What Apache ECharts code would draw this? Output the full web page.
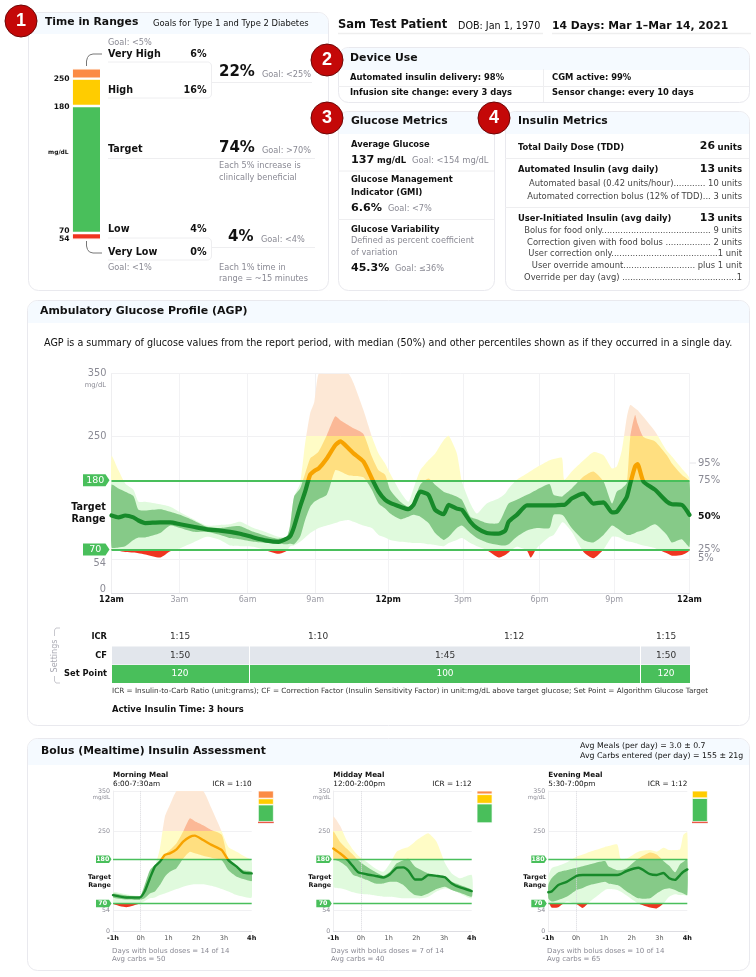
<!DOCTYPE html>
<html><head><meta charset="utf-8">
<script src="https://cdn.jsdelivr.net/npm/echarts@6/dist/echarts.min.js"></script>
<style>html,body{margin:0;padding:0;background:#fff}#c{width:756px;height:977px}</style>
</head><body><div id="c"></div>
<script>
// ---------- Ambulatory Glucose Profile (axis position in hours, mg/dL) ----------
const agpHours=[0,.29,.57,.91,1.12,1.4,2.02,2.44,2.85,3.4,3.96,4.51,4.93,5.34,5.9,6.45,6.93,7.28,7.42,7.58,7.83,8.04,8.25,8.42,8.6,8.94,9.29,9.5,9.84,10.05,10.46,10.81,11.09,11.36,11.57,11.99,12.33,12.54,12.82,13.16,13.44,13.79,14,14.34,14.55,14.9,15.17,15.58,16.07,16.35,16.49,16.83,17.25,17.41,17.66,18.19,18.36,18.7,18.8,19.11,19.6,20.01,20.43,20.78,20.98,21.19,21.4,21.54,21.74,21.84,22.09,22.57,23.06,23.27,23.68,24];
const agpP95=[219,196,175,165,146,146,142,138,129,118,108,109,110,114,104,97,90,90,112,154,175,239,287,305,350,350,350,350,350,335,292,250,223,207,191,162,146,167,196,212,223,244,251,223,178,143,127,143,151,159,167,181,191,195,201,212,214,216,181,194,212,225,220,199,202,228,281,300,295,292,281,258,227,218,199,183];
const agpP75=[173,167,162,155,133,132,134,130,125,116,106,104,106,107,98,91,87,90,109,154,167,191,215,220,226,252,282,276,268,263,254,218,196,189,165,146,138,146,173,183,173,162,159,154,149,122,118,112,112,133,143,149,157,160,165,174,157,154,157,167,186,194,178,143,162,167,176,249,284,271,249,242,220,207,189,178];
const agpP50=[124,121,124,121,116,112,113,113,110,106,102,100,98,95,89,84,82,87,91,106,138,162,189,195,199,215,236,242,231,223,210,183,162,149,144,138,134,141,162,157,133,126,141,135,133,114,104,96,95,100,114,125,140,140,140,140,140,141,141,151,159,143,145,129,130,141,154,175,202,206,178,165,146,142,141,125];
const agpP25=[73,73,75,85,89,89,96,108,104,98,98,93,88,86,82,80,79,78,79,78,90,117,138,146,150,157,196,194,188,187,185,165,143,135,127,118,122,125,122,112,96,85,90,104,108,96,88,81,77,76,78,90,100,102,104,104,125,125,122,104,85,81,93,108,104,98,93,93,96,98,101,110,93,81,86,74];
const agpP5=[70,68,66,65,64,62,57,67,72,81,90,85,76,75,74,68,63,68,75,76,82,89,96,100,104,108,112,115,117,114,108,104,93,89,85,82,81,80,80,78,77,75,80,85,88,80,75,69,57,61,65,74,68,57,72,90,93,113,112,98,66,56,70,90,90,87,83,82,80,79,76,72,64,60,61,69];
const agpTickPos=[0,2.82,5.65,8.46,11.49,14.59,17.77,20.87,24];
const agpTickText=['12am','3am','6am','9am','12pm','3pm','6pm','9pm','12am'];
const yTicks=[0,54,250,350];
const targetLines=[70,180];

// ---------- Meal profiles (hours from bolus, mg/dL) ----------
const mornHours=[-1,-.52,-.04,.14,.33,.51,.69,.87,1.05,1.29,1.53,1.77,1.95,2.25,2.55,2.92,3.16,3.46,3.7,4];
const mornP95=[98,93,89,100,141,162,207,286,315,350,350,350,350,350,307,249,211,199,189,176];
const mornP75=[95,90,87,116,153,166,170,191,203,220,249,282,275,265,253,241,178,162,153,149];
const mornP50=[91,85,85,100,133,162,174,191,195,205,224,236,239,228,216,203,178,162,147,145];
const mornP25=[85,80,79,83,95,100,116,137,149,158,182,199,195,189,184,178,153,137,131,126];
const mornP5=[70,61,70,76,83,85,91,95,100,106,112,116,118,118,114,106,100,91,87,85];

const midHours=[-1,-.76,-.52,-.28,-.1,.2,.51,.81,1.05,1.29,1.53,1.71,1.95,2.19,2.43,2.73,3.04,3.28,3.58,4];
const midP95=[286,264,228,203,189,174,158,149,170,199,207,211,224,236,245,224,170,145,133,141];
const midP75=[249,224,207,191,178,162,149,139,149,170,178,182,162,153,145,137,133,124,116,104];
const midP50=[207,195,181,162,148,143,139,135,143,159,160,152,130,130,141,139,135,120,110,101];
const midP25=[182,174,162,141,137,129,120,120,124,124,116,104,91,89,95,106,112,104,97,87];
const midP5=[112,108,104,98,95,93,90,87,87,85,83,83,83,83,87,100,108,104,95,83];

const eveHours=[-1,-.88,-.64,-.34,.02,.24,.5,1.04,1.16,1.48,1.6,1.82,2.24,2.66,2.9,3.14,3.35,3.56,3.74,3.86,4];
const eveP95=[137,158,164,172,187,192,199,211,213,217,182,182,199,203,199,209,203,203,205,241,247];
const eveP75=[116,133,148,153,159,163,168,176,163,153,153,158,182,197,192,176,164,148,168,174,180];
const eveP50=[98,100,116,124,139,141,141,141,141,141,143,151,159,143,141,146,133,129,141,149,155];
const eveP25=[83,75,79,87,104,109,116,124,120,116,112,100,83,83,95,105,108,104,98,95,91];
const eveP5=[79,60,61,75,68,59,75,104,106,104,100,90,70,60,58,70,87,93,91,91,90];
const mealTicks=[-1,0,1,2,3,4];

// ---------- Time in ranges (very low, low, target, high, very high) ----------
const tirMain=[0,4,74,16,6];
const tirMorning=[1,3,53,19,24];
const tirMidday=[0,0,60,29,11];
const tirEvening=[1,3,73,23,0];

// ---------- Colours ----------
const colVH='#fb8b45',colH='#ffcc00',colT='#49bf5b',colL='#ef3420',colVL='#a52a1a';
const band5={vh:'#fde8d6',h:'#fffcc6',t:'#e0fadd',l:'#ef3420'};
const band25={vh:'#fbb896',h:'#ffdf80',t:'#86ca88',l:'#ef3420'};
const medCol={vh:'#f7a300',h:'#f7a300',t:'#178a2a',l:'#178a2a'};
const GREY='#8a8a94',FONT='"DejaVu Sans"';
const YMAX=350;

const yPx=(g,v)=>g.top+g.height*(1-v/YMAX);
function rangeGrad(g,c){
  const o=v=>1-v/YMAX;
  return new echarts.graphic.LinearGradient(0,g.top,0,g.top+g.height,[
    {offset:0,color:c.vh},{offset:o(250),color:c.vh},
    {offset:o(250),color:c.h},{offset:o(180),color:c.h},
    {offset:o(180),color:c.t},{offset:o(70),color:c.t},
    {offset:o(70),color:c.l},{offset:1,color:c.l}],true);
}

// ---------- Graphic helpers ----------
const gfx=[];
function T(x,y,s,o={}){gfx.push({type:'text',silent:true,z:o.z||60,x:o.rot?x:0,y:o.rot?y:0,rotation:o.rot||0,
  style:{x:o.rot?0:x,y:o.rot?0:y,text:s,fill:o.c||'#111',font:`${o.w||'normal'} ${o.s||8.6}px ${o.f||FONT}`,textAlign:o.a||'left',textVerticalAlign:'middle'}});}
function L(pts,c,w,z){gfx.push({type:'polyline',silent:true,z:z||55,shape:{points:pts},style:{stroke:c||'#eee',lineWidth:w||1,fill:null}});}
function R(x,y,w,h,fill,r,z,stroke){gfx.push({type:'rect',silent:true,z:z===undefined?-3:z,shape:{x,y,width:w,height:h,r:r||0},style:{fill,stroke:stroke||null,lineWidth:stroke?1:0}});}
function panel(x,y,w,h,hh){R(x+.5,y+.5,w,h,'#fff',10,-4,'#e9e9ee');R(x+1,y+1,w-1,hh,'#f5faff',[9,9,0,0],-3);}
function badge(cx,cy,s){gfx.push({type:'circle',silent:true,z:58,shape:{cx,cy,r:16},style:{fill:'#c40808',stroke:'#6e0606',lineWidth:1}});
  T(cx,cy+.5,s,{c:'#fff',w:'bold',s:18,a:'center',f:'"Liberation Sans"',z:59});}
function chipOutline(x0,y0,x1,y1,r){const p=[[x0,y0]];
  for(let a=-90;a<=0;a+=15)p.push([x1-r+r*Math.cos(a*Math.PI/180),y0+r+r*Math.sin(a*Math.PI/180)]);
  for(let a=0;a<=90;a+=15)p.push([x1-r+r*Math.cos(a*Math.PI/180),y1-r+r*Math.sin(a*Math.PI/180)]);
  p.push([x0,y1]);L(p,'#eeeef0',1);}
function flag(x0,x1,yc,h,s,fs){gfx.push({type:'polygon',silent:true,z:56,shape:{points:[[x0,yc-h/2],[x1-h/3,yc-h/2],[x1,yc],[x1-h/3,yc+h/2],[x0,yc+h/2]]},style:{fill:colT}});
  T((x0+x1)/2-1,yc+.3,s,{c:'#fff',s:fs,a:'center',w:fs>8?'normal':'bold',z:57});}

// ---------- Panels ----------
panel(28,12,300,278,21);
panel(338,47,411,55,22);
panel(338,111,156,179,22);
panel(505,111,244,179,22);
panel(27,300,722,425,22);
panel(27,738,722,232,26);
badge(21,21,'1');badge(327,60,'2');badge(327,118,'3');badge(494,118,'4');

// ---------- 1 Time in Ranges text ----------
T(45,22.5,'Time in Ranges',{w:'bold',s:10.8});
T(153,23.5,'Goals for Type 1 and Type 2 Diabetes',{s:8.4});
T(108,43,'Goal: <5%',{c:GREY,s:8.2});
[['Very High',54,'6%'],['High',90,'16%'],['Low',229,'4%'],['Very Low',252,'0%']].forEach(r=>{T(108,r[1],r[0],{w:'bold',s:9.6});T(206.5,r[1],r[2],{w:'bold',s:9.6,a:'right'});});
T(108,149,'Target',{w:'bold',s:9.6});
T(108,268,'Goal: <1%',{c:GREY,s:8.2});
T(219,72,'22%',{w:'bold',s:15});T(262,75,'Goal: <25%',{c:GREY,s:8.2});
T(219,148.5,'74%',{w:'bold',s:15});T(262,151,'Goal: >70%',{c:GREY,s:8.2});
T(228,237,'4%',{w:'bold',s:15});T(261,239.5,'Goal: <4%',{c:GREY,s:8.2});
T(219,166,'Each 5% increase is',{c:GREY,s:8.2});T(219,177.5,'clinically beneficial',{c:GREY,s:8.2});
T(219,268,'Each 1% time in',{c:GREY,s:8.2});T(219,278.5,'range = ~15 minutes',{c:GREY,s:8.2});
L([[212,82.5],[312,82.5]],'#eeeef0');L([[108,158.5],[315,158.5]],'#eeeef0');L([[212,247.5],[315,247.5]],'#eeeef0');
chipOutline(108,62,211.5,98,4);chipOutline(108,238,211.5,260,4);
L([[102,54],[93,54],[89.5,55],[87.5,57.5],[86.5,61],[86.5,66]],'#777');
L([[86.5,241],[86.5,246],[87.5,249.5],[89.5,252],[93,253],[102,253]],'#777');
T(69.5,79,'250',{w:'bold',s:7.6,a:'right'});T(69.5,107,'180',{w:'bold',s:7.6,a:'right'});
T(68.5,152,'mg/dL',{w:'bold',s:5.9,a:'right'});T(69.5,231,'70',{w:'bold',s:7.6,a:'right'});T(69.5,239,'54',{w:'bold',s:7.6,a:'right'});

// ---------- Patient header ----------
T(338,25.5,'Sam Test Patient',{w:'bold',s:11.5});T(458,26,'DOB: Jan 1, 1970',{s:9.6});
T(552,26,'14 Days: Mar 1\u2013Mar 14, 2021',{w:'bold',s:10.8});
L([[338,33.5],[543,33.5]],'#eeeeee',1.4);L([[552,33.5],[751,33.5]],'#eeeeee',1.4);

// ---------- 2 Device use ----------
T(350,58.5,'Device Use',{w:'bold',s:10.9});
T(350,78,'Automated insulin delivery: 98%',{w:'bold',s:8.4});T(552,78,'CGM active: 99%',{w:'bold',s:8.4});
T(350,93,'Infusion site change: every 3 days',{w:'bold',s:8.4});T(552,93,'Sensor change: every 10 days',{w:'bold',s:8.4});
L([[338,86.5],[749,86.5]],'#eeeef0');L([[543.5,69],[543.5,102]],'#eeeef0');

// ---------- 3 Glucose metrics ----------
T(351,121.5,'Glucose Metrics',{w:'bold',s:10.8});
T(351,145,'Average Glucose',{w:'bold',s:8.4});
T(351,160,'137',{w:'bold',s:11.2});T(377,161,'mg/dL',{w:'bold',s:8.4});T(412,161,'Goal: <154 mg/dL',{c:GREY,s:8.4});
L([[338,171],[494,171]],'#eeeef0');
T(351,180,'Glucose Management',{w:'bold',s:8.4});T(351,193,'Indicator (GMI)',{w:'bold',s:8.4});
T(351,208,'6.6%',{w:'bold',s:11.2});T(388,209,'Goal: <7%',{c:GREY,s:8.2});
L([[338,219.5],[494,219.5]],'#eeeef0');
T(351,230,'Glucose Variability',{w:'bold',s:8.4});
T(351,241,'Defined as percent coefficient',{c:GREY,s:8.2});T(351,253,'of variation',{c:GREY,s:8.2});
T(351,268.5,'45.3%',{w:'bold',s:11});T(395,269,'Goal: \u226436%',{c:GREY,s:8.2});

// ---------- 4 Insulin metrics ----------
T(518,121.5,'Insulin Metrics',{w:'bold',s:10.8});
[['Total Daily Dose (TDD)',147.5,'26'],['Automated Insulin (avg daily)',170,'13'],['User-Initiated Insulin (avg daily)',219,'13']].forEach(r=>{
  T(518,r[1],r[0],{w:'bold',s:8.4});T(715,r[1]-1,r[2],{w:'bold',s:10.9,a:'right'});T(742,r[1],'units',{w:'bold',s:8.6,a:'right'});});
L([[505,158.5],[749,158.5]],'#eeeef0');L([[505,207.5],[749,207.5]],'#eeeef0');
const IC='#444';
[['Automated basal (0.42 units/hour)............ 10 units',183.5],['Automated correction bolus (12% of TDD)... 3 units',197],
 ['Bolus for food only......................................... 9 units',231],['Correction given with food bolus ................. 2 units',242.5],
 ['User correction only........................................1 unit',254],['User override amount........................... plus 1 unit',266],
 ['Override per day (avg) ...........................................1',277.5]].forEach(r=>T(742,r[1],r[0],{c:IC,s:8.4,a:'right'}));

// ---------- AGP text ----------
T(40,311,'Ambulatory Glucose Profile (AGP)',{w:'bold',s:10.95});
T(44,343,'AGP is a summary of glucose values from the report period, with median (50%) and other percentiles shown as if they occurred in a single day.',{s:9.6});
T(106,385,'mg/dL',{c:GREY,s:6.8,a:'right'});
T(106,563,'54',{c:GREY,s:9.8,a:'right'});T(106,589.5,'0',{c:GREY,s:9.8,a:'right'});
T(88.5,507,'Target',{w:'bold',s:9.6,a:'center'});T(88.5,519,'Range',{w:'bold',s:9.6,a:'center'});
T(698,463,'95%',{c:GREY,s:10});T(698,480,'75%',{c:GREY,s:10});T(698,516.5,'50%',{w:'bold',s:9.3});
T(698,549,'25%',{c:GREY,s:10});T(698,558,'5%',{c:GREY,s:10});
L([[689.5,463],[696,463]],'#e6e6ea');

// ---------- Settings table ----------
T(107,637,'ICR',{w:'bold',s:8.3,a:'right'});T(107,655.5,'CF',{w:'bold',s:8.3,a:'right'});T(107,674,'Set Point',{w:'bold',s:8.3,a:'right'});
R(112,646.5,137,18,'#e2e6ec',0,1);R(250,646.5,390,18,'#e2e6ec',0,1);R(641,646.5,49,18,'#e2e6ec',0,1);
R(112,665,137,18,colT,0,1);R(250,665,390,18,colT,0,1);R(641,665,49,18,colT,0,1);
[[180,'1:15'],[318,'1:10'],[514,'1:12'],[666,'1:15']].forEach(r=>T(r[0],637,r[1],{s:9,a:'center',c:'#333'}));
[[180,'1:50'],[445,'1:45'],[666,'1:50']].forEach(r=>T(r[0],655.5,r[1],{s:9,a:'center',c:'#333'}));
[[180,'120'],[445,'100'],[666,'120']].forEach(r=>T(r[0],674,r[1],{s:9,a:'center',c:'#fff'}));
T(55,656,'Settings',{c:'#a9a9b2',s:8,a:'center',rot:Math.PI/2});
L([[60,628],[56,628],[54.5,630],[54.5,636]],'#c8c8ce');L([[54.5,676],[54.5,681],[56,683],[60,683]],'#c8c8ce');
T(112,691,'ICR = Insulin-to-Carb Ratio (unit:grams); CF = Correction Factor (Insulin Sensitivity Factor) in unit:mg/dL above target glucose; Set Point = Algorithm Glucose Target',{s:7.25,c:'#333'});
T(112,710,'Active Insulin Time: 3 hours',{w:'bold',s:8.4});

// ---------- Bolus text ----------
T(41,751,'Bolus (Mealtime) Insulin Assessment',{w:'bold',s:10.8});
T(580,746,'Avg Meals (per day) = 3.0 \u00b1 0.7',{s:7.8});T(580,755.5,'Avg Carbs entered (per day) = 155 \u00b1 21g',{s:7.8});

// ---------- Option building ----------
const grids=[],xAxes=[],yAxes=[],series=[];
function targetMark(vals,w,zero){
  const d=vals.map(v=>({yAxis:v,lineStyle:{color:colT,width:w,type:'solid',opacity:1}}));
  if(zero) d.unshift({xAxis:0,lineStyle:{color:'#d8d8dd',width:1,type:'dotted',opacity:1}});
  return {silent:true,symbol:'none',animation:false,label:{show:false},data:d};
}
function addProfile(g,xs,p95,p75,p50,p25,p5,opt){
  const i=grids.length;grids.push({left:g.left,top:g.top,width:g.width,height:g.height,containLabel:false});
  xAxes.push({type:'value',gridIndex:i,min:xs[0],max:xs[xs.length-1],axisLine:{show:true,onZero:false,lineStyle:{color:'#dddde2',width:1}},
    axisTick:{show:false,customValues:opt.xTicks},splitLine:{show:opt.xGrid,lineStyle:{color:'#f2f2f4',width:1}},
    axisLabel:{customValues:opt.xTicks,margin:opt.xMargin,showMinLabel:true,showMaxLabel:true,formatter:opt.xFmt,rich:opt.xRich,hideOverlap:false}});
  yAxes.push({type:'value',gridIndex:i,min:0,max:YMAX,axisLine:{show:true,onZero:false,lineStyle:{color:'#eeeeF0'}},axisTick:{show:false,customValues:yTicks},
    splitLine:{show:true,lineStyle:{color:'#f1f1f3',width:1}},
    axisLabel:{customValues:opt.yLabels,margin:opt.yMargin,color:GREY,fontFamily:FONT,fontSize:opt.yFont,fontWeight:'normal'}});
  const pairs=(a)=>xs.map((x,k)=>[x,a[k]]);
  const band=(hi,lo,cols)=>{
    const fill=rangeGrad(g,cols);
    series.push({type:'custom',xAxisIndex:i,yAxisIndex:i,silent:true,clip:true,z:3,encode:{x:0,y:[1,2]},
      data:xs.map((x,k)=>[x,lo[k],hi[k]]),
      renderItem:(p,api)=>{
        if(p.dataIndex!==0) return null;
        const pts=[];
        xs.forEach((x,k)=>pts.push(api.coord([x,hi[k]])));
        for(let k=xs.length-1;k>=0;k--) pts.push(api.coord([xs[k],lo[k]]));
        return {type:'polygon',shape:{points:pts,smooth:opt.smooth},style:{fill}};
      }});
  };
  band(p95,p5,band5);
  band(p75,p25,band25);
  series.push({type:'line',name:'median',xAxisIndex:i,yAxisIndex:i,data:pairs(p50),smooth:opt.smooth,showSymbol:false,silent:true,
    lineStyle:{width:opt.medWidth,color:rangeGrad(g,medCol),cap:'round',join:'round'},z:5,
    markLine:targetMark(targetLines,opt.lineW,opt.zeroLine)});
}
function addBar(g,vals){
  const i=grids.length;grids.push({left:g.left,top:g.top,width:g.width,height:g.height});
  xAxes.push({type:'category',gridIndex:i,data:['TIR'],show:false});
  yAxes.push({type:'value',gridIndex:i,min:0,max:100,show:false});
  [colVL,colL,colT,colH,colVH].forEach((c,k)=>{ if(vals[k]>0) series.push({type:'bar',xAxisIndex:i,yAxisIndex:i,stack:'t'+i,barWidth:'100%',data:[vals[k]],silent:true,
    itemStyle:{color:c,borderColor:'#fff',borderWidth:(k<2&&g.gap<1)?0:g.gap},z:k<2?4:3}); });
}

// main AGP
const agpGrid={left:111.5,top:373.7,width:578,height:219.6};
const agpFmt=(v)=>{const k=agpTickPos.indexOf(v);const s=agpTickText[k];return (s==='12am'||s==='12pm')?`{b|${s}}`:`{g|${s}}`;};
addProfile(agpGrid,agpHours,agpP95,agpP75,agpP50,agpP25,agpP5,{xTicks:agpTickPos,xGrid:true,xMargin:3,xFmt:agpFmt,
  xRich:{b:{fontFamily:FONT,fontSize:8,fontWeight:'bold',color:'#111'},g:{fontFamily:FONT,fontSize:8,fontWeight:'normal',color:'#9a9aa3'}},
  yLabels:[250,350],yMargin:5,yFont:9.8,smooth:.2,medWidth:4.2,lineW:2});
flag(83,109.5,yPx(agpGrid,180),12,'180',9.5);flag(83,109.5,yPx(agpGrid,70),12,'70',9.5);

// meal profiles
const mealFmt=v=>{const s=v+'h';return (v===-1||v===4)?`{b|${s}}`:`{g|${s}}`;};
const mealRich={b:{fontFamily:FONT,fontSize:6.5,fontWeight:'bold',color:'#111'},g:{fontFamily:FONT,fontSize:6.5,color:'#555'}};
const mealOpt={xTicks:mealTicks,xGrid:false,xMargin:3,xFmt:mealFmt,xRich:mealRich,yLabels:yTicks,yMargin:3,yFont:6.3,smooth:.2,medWidth:2.4,lineW:1.3,zeroLine:true};
const mealGrids=[{left:113,top:791,width:138.7,height:140.7},{left:333.3,top:791,width:138.4,height:140.7},{left:548.3,top:791,width:139,height:140.7}];
addProfile(mealGrids[0],mornHours,mornP95,mornP75,mornP50,mornP25,mornP5,mealOpt);
addProfile(mealGrids[1],midHours,midP95,midP75,midP50,midP25,midP5,mealOpt);
addProfile(mealGrids[2],eveHours,eveP95,eveP75,eveP50,eveP25,eveP5,mealOpt);
const mealText=[['Morning Meal','6:00-7:30am','ICR = 1:10','14 of 14','50',112],['Midday Meal','12:00-2:00pm','ICR = 1:12','7 of 14','40',331],['Evening Meal','5:30-7:00pm','ICR = 1:12','10 of 14','65',547]];
mealGrids.forEach((g,k)=>{const m=mealText[k];
  T(g.left,775,m[0],{w:'bold',s:7.2});T(g.left,784.5,m[1],{s:7.3});T(g.left+g.width,784.5,m[2],{s:7.3,a:'right'});
  flag(g.left-17,g.left-1.5,yPx(g,180),7.5,'180',6.3);flag(g.left-17,g.left-1.5,yPx(g,70),7.5,'70',6.3);
  T(g.left-13.5,877,'Target',{w:'bold',s:6.4,a:'center'});T(g.left-13.5,885.7,'Range',{w:'bold',s:6.4,a:'center'});
  T(g.left-3,798,'mg/dL',{c:GREY,s:5.6,a:'right'});
  T(m[5],951,'Days with bolus doses = '+m[3],{c:GREY,s:7});T(m[5],959.5,'Avg carbs = '+m[4],{c:GREY,s:7});
});

// TIR stacked bars
addBar({left:71.7,top:68.3,width:29.5,height:171.5,gap:1.2},tirMain);
addBar({left:258,top:790.7,width:15.7,height:32.4,gap:.7},tirMorning);
addBar({left:476.7,top:790.7,width:15.7,height:32.4,gap:.7},tirMidday);
addBar({left:692,top:790.7,width:15.7,height:32.4,gap:.7},tirEvening);

const chart=echarts.init(document.getElementById('c'),null,{renderer:'canvas'});
chart.setOption({animation:false,backgroundColor:'#fff',textStyle:{fontFamily:FONT},tooltip:{show:false},legend:{show:false},
  grid:grids,xAxis:xAxes,yAxis:yAxes,series:series,graphic:{elements:gfx}});
</script></body></html>
